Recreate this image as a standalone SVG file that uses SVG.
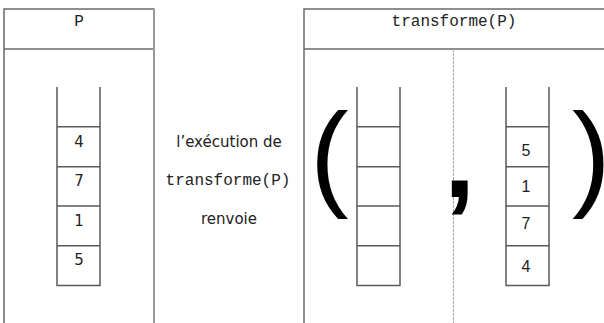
<svg xmlns="http://www.w3.org/2000/svg" width="604" height="323" viewBox="0 0 604 323">
<style>
.frame{fill:none;stroke:#6a6a6a;stroke-width:1.5}
.edge{stroke:#9a9a9a;stroke-width:2}
.div{stroke:#aaaaaa;stroke-width:1;stroke-dasharray:3 1}
.stk{fill:none;stroke:#5a5a5a;stroke-width:1.5}
.mono{font-family:"Liberation Mono","DejaVu Sans Mono",monospace;font-size:16px;fill:#222;text-anchor:middle}
.lnum{font-family:"DejaVu Sans",sans-serif;font-size:15px;fill:#222;text-anchor:middle}
.rnum{font-family:"Liberation Sans",Arial,sans-serif;font-size:16px;fill:#222;text-anchor:middle}
.mid{font-family:"DejaVu Sans",sans-serif;font-size:15px;fill:#222;text-anchor:middle}
.big{font-family:"Liberation Sans",Arial,sans-serif;font-size:116px;fill:#000}
.comma{font-family:"Liberation Sans",Arial,sans-serif;font-weight:bold;font-size:112px;fill:#000}
</style>
<rect width="604" height="323" fill="#fff"/>
<g id="panelP">
<path class="frame" d="M154,9 H4 V323 M4,49 H154"/>
<line class="edge" x1="154" y1="8.3" x2="154" y2="323"/>
<text class="mono" x="79" y="26">P</text>
</g>
<g id="stackP">
<path class="stk" d="M57,87 V285.5 H100 V87 M57,126.7 H100 M57,166.7 H100 M57,206 H100 M57,245.7 H100"/>
<text class="lnum" x="79" y="147">4</text>
<text class="lnum" x="79" y="186">7</text>
<text class="lnum" x="79" y="226">1</text>
<text class="lnum" x="79" y="265">5</text>
</g>
<g id="label">
<text class="mid" x="229" y="147">l’exécution de</text>
<text class="mono" x="228" y="185">transforme(P)</text>
<text class="mid" x="229" y="224">renvoie</text>
</g>
<g id="panelT">
<path class="frame" d="M304,323 V9 H604 M304,49 H604"/>
<line class="div" x1="453.5" y1="49" x2="453.5" y2="323"/>
<text class="mono" x="454" y="26">transforme(P)</text>
</g>
<g id="stackEmpty">
<path class="stk" d="M357,87 V285.5 H400 V87 M357,126.7 H400 M357,166.7 H400 M357,206 H400 M357,245.7 H400"/>
</g>
<g id="stackR">
<path class="stk" d="M506,87 V285.5 H549 V87 M506,126.7 H549 M506,166.7 H549 M506,206 H549 M506,245.7 H549"/>
<text class="rnum" x="526" y="156">5</text>
<text class="rnum" x="526" y="192">1</text>
<text class="rnum" x="526" y="229">7</text>
<text class="rnum" x="526" y="272">4</text>
</g>
<g id="tuple">
<text class="big" x="310" y="195">(</text>
<text class="comma" x="444" y="197">,</text>
<text class="big" x="572" y="195">)</text>
</g>
</svg>
